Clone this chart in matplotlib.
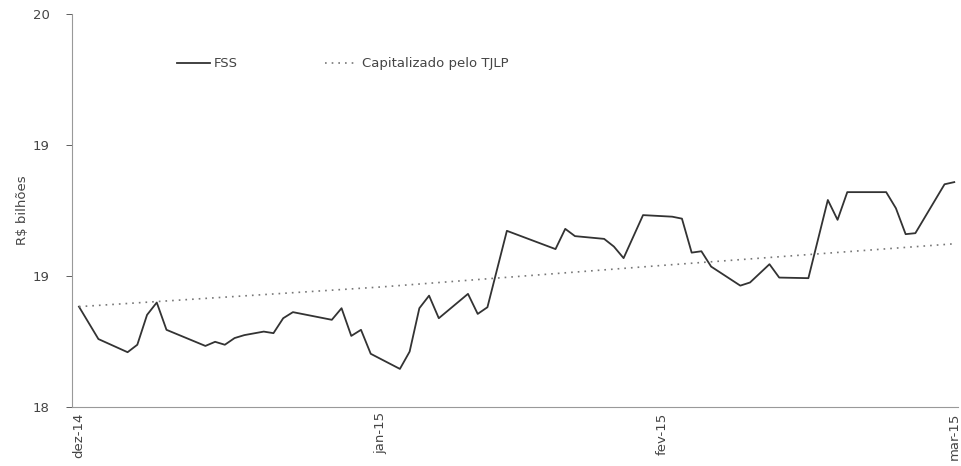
import numpy as np
import matplotlib
matplotlib.use("Agg")
import matplotlib.pyplot as plt

# dias desde o início (eixo x) e valores do FSS (R$ bilhões)
fss_dias = [0, 2, 5, 6, 7, 8, 9, 13, 14, 15, 16, 17, 19, 20, 21, 22, 26, 27, 28, 29,
            30, 33, 34, 35, 36, 37, 40, 41, 42, 44, 49, 50, 51, 54, 55, 56, 58, 61,
            62, 63, 64, 65, 68, 69, 71, 72, 75, 77, 78, 79, 83, 84, 85, 86, 89, 90]
fss_valores = [18.51, 18.345, 18.278, 18.316, 18.468, 18.531, 18.392, 18.31, 18.331,
               18.316, 18.35, 18.365, 18.383, 18.375, 18.451, 18.482, 18.443, 18.502,
               18.361, 18.392, 18.27, 18.193, 18.281, 18.502, 18.566, 18.451, 18.575,
               18.473, 18.507, 18.896, 18.803, 18.906, 18.869, 18.855, 18.816, 18.757,
               18.976, 18.968, 18.958, 18.785, 18.792, 18.714, 18.617, 18.633, 18.726,
               18.658, 18.655, 19.053, 18.952, 19.093, 19.093, 19.011, 18.879, 18.884,
               19.133, 19.144]

# capitalizado pela TJLP
tjlp_dias = [0, 31, 60, 90]
tjlp_valores = [18.51, 18.61, 18.72, 18.83]

meses_pos = [0, 31, 60, 90]
meses = ["dez-14", "jan-15", "fev-15", "mar-15"]
y_ticks = np.linspace(18, 20, 4)
y_labels = ["18", "19", "19", "20"]

fig = plt.figure(figsize=(9.62, 4.66), dpi=100)
ax = fig.add_axes([0.075, 0.127, 0.921, 0.843])

ax.plot(fss_dias, fss_valores, color="#333333", lw=1.3, label="FSS")
ax.plot(tjlp_dias, tjlp_valores, color="#777777", lw=1.2, linestyle=(0, (1, 3)),
        label="Capitalizado pelo TJLP")

ax.set_xlim(-0.7, 90.4)
ax.set_ylim(18, 20)
ax.set_yticks(y_ticks)
ax.set_yticklabels(y_labels)
ax.set_xticks(meses_pos)
ax.set_xticklabels(meses, rotation=90)
ax.tick_params(axis="both", labelsize=9.5, colors="#444444", length=4, width=0.6)
ax.tick_params(axis="y", pad=12)
ax.tick_params(axis="x", length=0, pad=4)

for s in ["top", "right"]:
    ax.spines[s].set_visible(False)
for s in ["left", "bottom"]:
    ax.spines[s].set_color("#999999")
    ax.spines[s].set_linewidth(0.8)

ax.set_ylabel("R$ bilhões", fontsize=9.5, color="#444444", labelpad=3)

ax.legend(loc="upper left", bbox_to_anchor=(0.105, 0.92), ncol=2, frameon=False,
          fontsize=9.5, labelcolor="#444444", handlelength=2.5, handletextpad=0.3,
          columnspacing=6.6)

fig.savefig("out.png", dpi=100)
